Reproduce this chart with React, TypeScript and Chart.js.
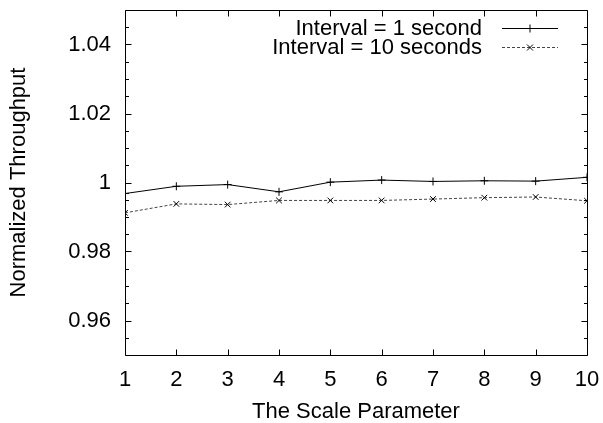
import React, { useEffect, useRef } from "react";
import { Chart, registerables } from "chart.js";

Chart.register(...registerables);

const scaleParams = [1, 2, 3, 4, 5, 6, 7, 8, 9, 10];
const interval1s = [0.9968, 0.9989, 0.9994, 0.9973, 1.0001, 1.0007, 1.0003, 1.0005, 1.0004, 1.0015];
const interval10s = [0.9912, 0.9938, 0.9936, 0.9948, 0.9948, 0.9948, 0.9952, 0.9956, 0.9958, 0.9947];
const yMajorTicks = [0.96, 0.98, 1.0, 1.02, 1.04];
const yMinorTicks = [0.955, 0.965, 0.97, 0.975, 0.985, 0.99, 0.995, 1.005, 1.01, 1.015, 1.025, 1.03, 1.035, 1.045];
const xTicks = [1, 2, 3, 4, 5, 6, 7, 8, 9, 10];
const legendLabels = ["Interval = 1 second", "Interval = 10 seconds"];

const FONT = '"Liberation Sans", Arial, Helvetica, sans-serif';
const FS = 22;

const framePlugin = {
  id: "gnuplotFrame",
  afterDraw(chart: any) {
    const ctx = chart.ctx;
    const { left, right, top, bottom } = chart.chartArea;
    const xs = chart.scales.x;
    const ys = chart.scales.y;
    ctx.save();
    ctx.strokeStyle = "#000";
    ctx.lineWidth = 1;
    ctx.setLineDash([]);
    const L = Math.round(left) + 0.5;
    const R = Math.round(right) + 0.5;
    const T = Math.round(top) + 0.5;
    const B = Math.round(bottom) + 0.5;
    ctx.beginPath();
    ctx.rect(L, T, R - L, B - T);
    ctx.stroke();
    ctx.beginPath();
    const major = 6;
    const minor = 3.5;
    for (const v of xTicks) {
      const px = Math.round(xs.getPixelForValue(v)) + 0.5;
      ctx.moveTo(px, B);
      ctx.lineTo(px, B - major);
      ctx.moveTo(px, T);
      ctx.lineTo(px, T + major);
    }
    for (const v of yMajorTicks) {
      const py = Math.round(ys.getPixelForValue(v)) + 0.5;
      ctx.moveTo(L, py);
      ctx.lineTo(L + major, py);
      ctx.moveTo(R, py);
      ctx.lineTo(R - major, py);
    }
    for (const v of yMinorTicks) {
      const py = Math.round(ys.getPixelForValue(v)) + 0.5;
      ctx.moveTo(L, py);
      ctx.lineTo(L + minor, py);
      ctx.moveTo(R, py);
      ctx.lineTo(R - minor, py);
    }
    ctx.stroke();

    // legend
    ctx.font = FS + "px " + FONT;
    ctx.fillStyle = "#000";
    ctx.textAlign = "right";
    ctx.textBaseline = "middle";
    const rows = [28, 47];
    const textRight = 482;
    const lx0 = 502;
    const lx1 = 558;
    const mx = 530;
    legendLabels.forEach((lab, i) => {
      const y = rows[i];
      ctx.fillText(lab, textRight, y + 1);
      const ly = y + 0.5;
      ctx.beginPath();
      if (i === 0) {
        ctx.strokeStyle = "#000";
        ctx.setLineDash([]);
      } else {
        ctx.strokeStyle = "#444";
        ctx.setLineDash([3, 2]);
      }
      ctx.moveTo(lx0, ly);
      ctx.lineTo(lx1, ly);
      ctx.stroke();
      ctx.setLineDash([]);
      ctx.strokeStyle = "#000";
      ctx.beginPath();
      if (i === 0) {
        ctx.moveTo(mx - 4, ly);
        ctx.lineTo(mx + 4, ly);
        ctx.moveTo(mx, ly - 4);
        ctx.lineTo(mx, ly + 4);
      } else {
        ctx.moveTo(mx - 3, ly - 3);
        ctx.lineTo(mx + 3, ly + 3);
        ctx.moveTo(mx - 3, ly + 3);
        ctx.lineTo(mx + 3, ly - 3);
      }
      ctx.stroke();
    });
    ctx.restore();
  },
};

export default function App() {
  const ref = useRef<HTMLCanvasElement | null>(null);
  useEffect(() => {
    if (!ref.current) return;
    const chart = new Chart(ref.current, {
      type: "line",
      data: {
        datasets: [
          {
            label: legendLabels[0],
            data: scaleParams.map((x, i) => ({ x, y: interval1s[i] })),
            borderColor: "#000",
            borderWidth: 1,
            pointStyle: "cross",
            pointRadius: 4,
            pointBorderWidth: 1,
            pointBorderColor: "#000",
            fill: false,
            tension: 0,
          },
          {
            label: legendLabels[1],
            data: scaleParams.map((x, i) => ({ x, y: interval10s[i] })),
            borderColor: "#444",
            borderWidth: 1,
            borderDash: [3, 2],
            pointStyle: "crossRot",
            pointRadius: 4,
            pointBorderWidth: 1,
            pointBorderColor: "#000",
            fill: false,
            tension: 0,
          },
        ],
      },
      options: {
        animation: false,
        responsive: true,
        maintainAspectRatio: false,
        layout: { padding: { left: 0, right: 16, top: 10, bottom: 0 } },
        plugins: {
          legend: { display: false },
          tooltip: { enabled: false },
        },
        scales: {
          x: {
            type: "linear",
            min: 1,
            max: 10,
            afterBuildTicks: (s: any) => {
              s.ticks = xTicks.map((v) => ({ value: v }));
            },
            afterFit: (s: any) => {
              s.height = 68;
              s.paddingLeft = 0;
              s.paddingRight = 0;
            },
            ticks: {
              font: { family: FONT, size: FS },
              color: "#000",
              padding: 12,
              autoSkip: false,
              maxRotation: 0,
              callback: (v: any) => String(v),
            },
            grid: { display: false, drawTicks: false },
            border: { display: false },
            title: {
              display: true,
              text: "The Scale Parameter",
              font: { family: FONT, size: FS, lineHeight: 1 },
              color: "#000",
              padding: { top: 0, bottom: 0 },
            },
          },
          y: {
            type: "linear",
            min: 0.95,
            max: 1.05,
            afterBuildTicks: (s: any) => {
              s.ticks = yMajorTicks.map((v) => ({ value: v }));
            },
            afterFit: (s: any) => {
              s.width = 125;
              s.paddingTop = 0;
              s.paddingBottom = 0;
            },
            ticks: {
              font: { family: FONT, size: FS },
              color: "#000",
              padding: 14,
              callback: (v: any) => String(Number(Number(v).toFixed(2))),
            },
            grid: { display: false, drawTicks: false },
            border: { display: false },
            title: {
              display: true,
              text: "Normalized Throughput",
              font: { family: FONT, size: FS },
              color: "#000",
              padding: { top: 5.5, bottom: 0 },
            },
          },
        },
      },
      plugins: [framePlugin],
    });
    return () => chart.destroy();
  }, []);
  return (
    <div style={{ position: "absolute", left: 0, top: 0, width: 603, height: 423, background: "#fff" }}>
      <canvas ref={ref} />
    </div>
  );
}
